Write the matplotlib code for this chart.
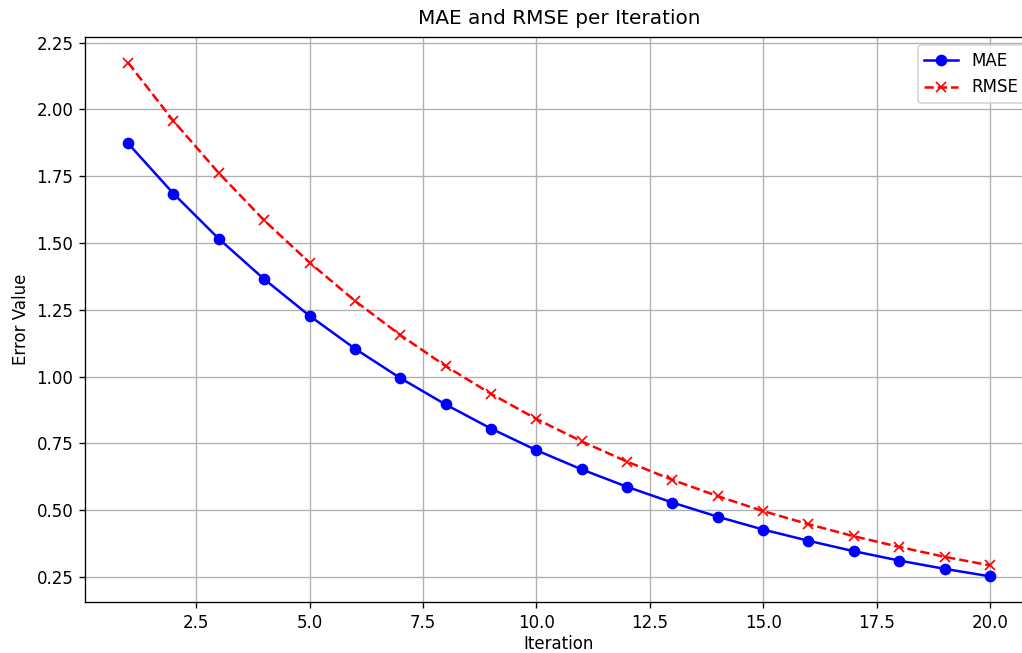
import matplotlib
matplotlib.use('Agg')
import matplotlib.pyplot as plt

# Values
iterations = list(range(1, 21))
mae = [1.873, 1.685, 1.516, 1.365, 1.228, 1.105, 0.995, 0.896, 0.806, 0.725,
       0.653, 0.588, 0.529, 0.476, 0.428, 0.386, 0.347, 0.312, 0.281, 0.253]
rmse = [2.175, 1.957, 1.762, 1.585, 1.427, 1.284, 1.156, 1.040, 0.936, 0.842,
        0.758, 0.682, 0.614, 0.553, 0.497, 0.448, 0.403, 0.363, 0.326, 0.294]

dpi = 120
fig = plt.figure(figsize=(1022 / dpi, 653 / dpi), dpi=dpi)
ax = fig.add_axes([85 / 1022, 51 / 653, 948 / 1022, 565 / 653])

ax.plot(iterations, mae, color='blue', marker='o', linestyle='-', label='MAE')
ax.plot(iterations, rmse, color='red', marker='x', linestyle='--', label='RMSE')

ax.set_title('MAE and RMSE per Iteration', pad=8)
ax.set_xlabel('Iteration', labelpad=2)
ax.set_ylabel('Error Value')
ax.grid(True)
ax.legend(loc='upper right')

fig.savefig('out.png', dpi=dpi)
